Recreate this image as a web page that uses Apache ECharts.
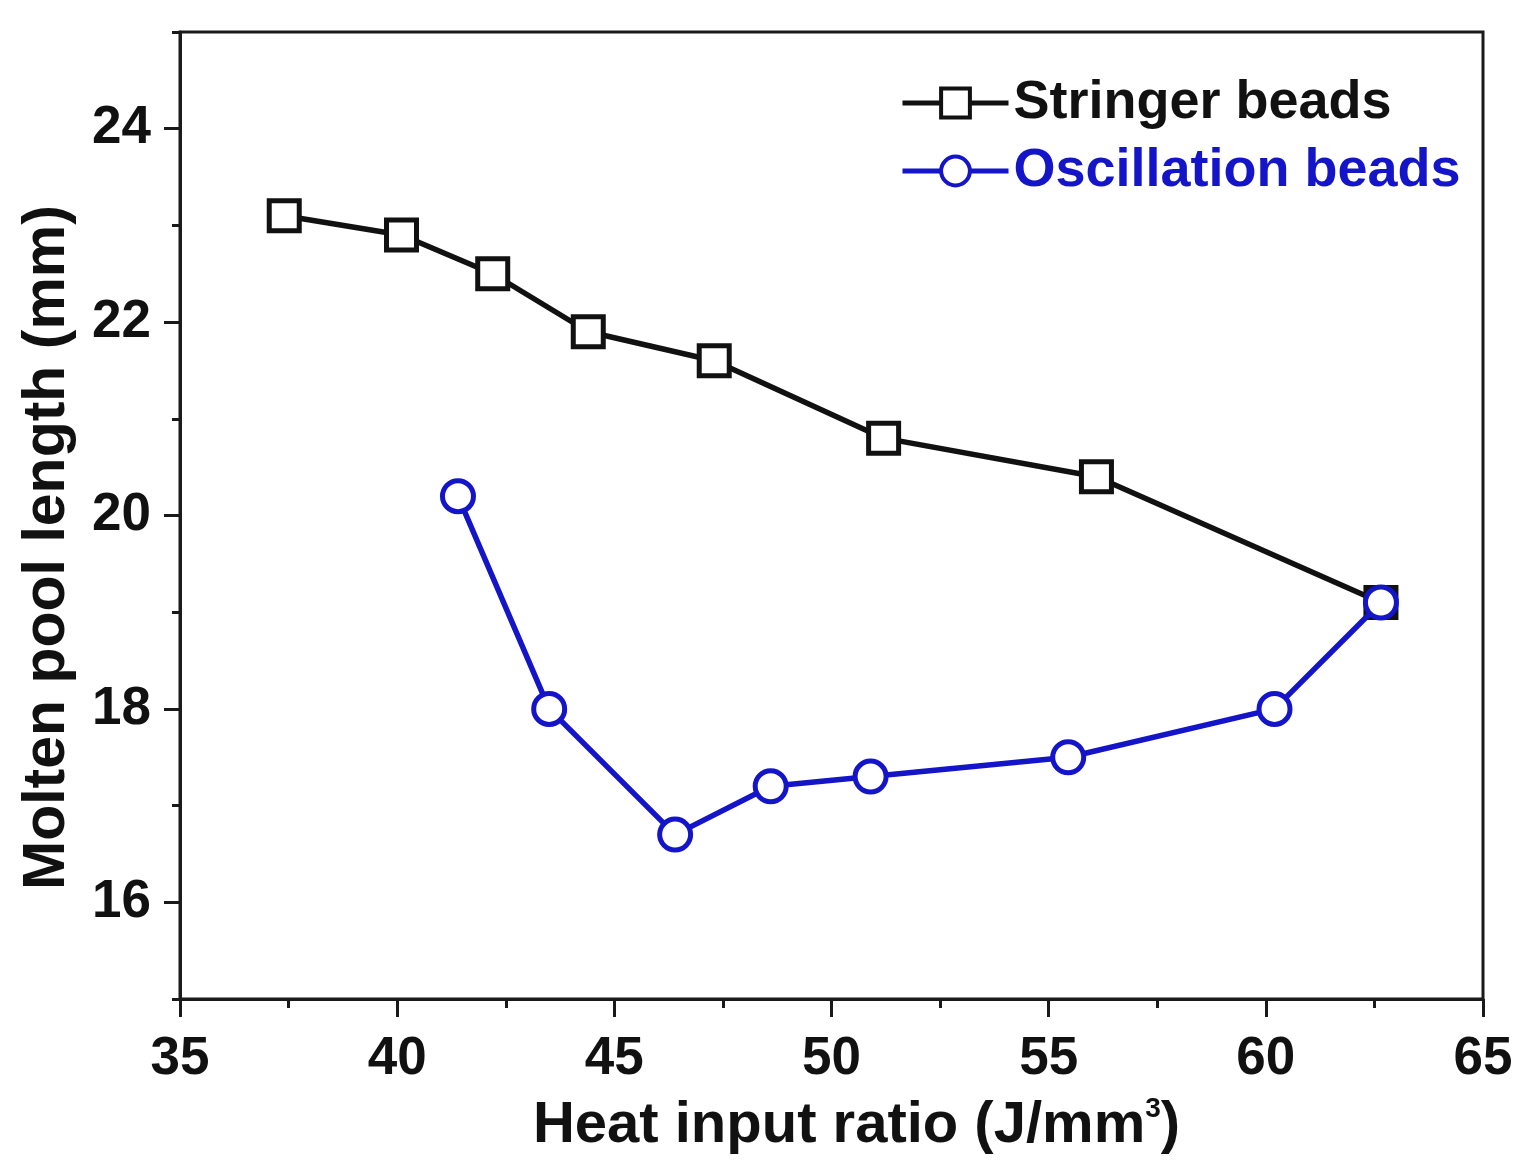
<!DOCTYPE html>
<html>
<head>
<meta charset="utf-8">
<script src="https://cdn.jsdelivr.net/npm/echarts@6/dist/echarts.min.js"></script>
<style>
html,body{margin:0;padding:0;background:#fff;}
#chart{width:1529px;height:1169px;}
</style>
</head>
<body>
<div id="chart"></div>
<script>
const stringerX = [37.4, 40.1, 42.2, 44.4, 47.3, 51.2, 56.1, 62.65];
const stringerY = [23.1, 22.9, 22.5, 21.9, 21.6, 20.8, 20.4, 19.1];
const oscX = [41.4, 43.5, 46.4, 48.6, 50.9, 55.45, 60.2, 62.65];
const oscY = [20.2, 18.0, 16.7, 17.2, 17.3, 17.5, 18.0, 19.1];
const yMajorTicks = [16, 18, 20, 22, 24];
const yMinorTicks = [15, 17, 19, 21, 23, 25];
const seriesNames = ['Stringer beads', 'Oscillation beads'];

const BLUE = '#1414c8';
const FONT = 'Liberation Sans, Arial, sans-serif';

const chart = echarts.init(document.getElementById('chart'));
const pair = (xs, ys) => xs.map((x, i) => [x, ys[i]]);

const axisLineStyle = { color: '#1a1a1a', width: 3 };

chart.setOption({
  backgroundColor: '#fff',
  animation: false,
  grid: {
    left: 180, right: 46, top: 32, bottom: 170,
    containLabel: false,
    outerBoundsMode: 'none',
    show: true, borderColor: '#1a1a1a', borderWidth: 3
  },
  legend: {
    orient: 'vertical',
    left: 895, top: 71,
    itemWidth: 106, itemHeight: 36,
    itemGap: 14,
    lineStyle: { width: 5 },
    textStyle: { fontFamily: FONT, fontWeight: 'bold', fontSize: 54, lineHeight: 54, color: '#111' },
    data: [
      { name: seriesNames[0], textStyle: { color: '#111' }, itemStyle: { borderWidth: 4 } },
      { name: seriesNames[1], textStyle: { color: BLUE }, itemStyle: { borderWidth: 4 } }
    ]
  },
  xAxis: {
    type: 'value',
    min: 35, max: 65, interval: 5,
    name: 'Heat input ratio (J/mm{sup|3})',
    nameLocation: 'middle', nameGap: 96,
    nameTextStyle: {
      fontFamily: FONT, fontWeight: 'bold', fontSize: 58, color: '#111',
      padding: [0, 0, 0, 50],
      rich: { sup: { fontFamily: FONT, fontWeight: 'bold', fontSize: 28, color: '#111', verticalAlign: 'top', padding: [0, 0, 34, 0] } }
    },
    axisLine: { show: true, lineStyle: axisLineStyle },
    axisTick: { show: true, inside: false, length: 18, lineStyle: { color: '#1a1a1a', width: 3 } },
    minorTick: { show: true, splitNumber: 2, length: 9, lineStyle: { color: '#1a1a1a', width: 3 } },
    axisLabel: { fontFamily: FONT, fontWeight: 'bold', fontSize: 53, color: '#111', margin: 34 },
    splitLine: { show: false }
  },
  yAxis: [
    {
      type: 'value',
      min: 15, max: 25,
      name: 'Molten pool length (mm)',
      nameLocation: 'middle', nameGap: 103, nameRotate: 90,
      nameTextStyle: { fontFamily: FONT, fontWeight: 'bold', fontSize: 59, color: '#111', padding: [0, 64, 0, 0] },
      axisLine: { show: true, lineStyle: axisLineStyle },
      axisTick: { show: true, inside: false, length: 16, customValues: yMajorTicks, lineStyle: { color: '#1a1a1a', width: 3 } },
      axisLabel: { fontFamily: FONT, fontWeight: 'bold', fontSize: 53, color: '#111', margin: 29, customValues: yMajorTicks },
      splitLine: { show: false }
    },
    {
      type: 'value',
      min: 15, max: 25,
      position: 'left',
      axisLine: { show: false },
      axisTick: { show: true, inside: false, length: 8, customValues: yMinorTicks, lineStyle: { color: '#1a1a1a', width: 3 } },
      axisLabel: { show: false },
      splitLine: { show: false }
    }
  ],
  series: [
    {
      name: seriesNames[0],
      type: 'line',
      data: pair(stringerX, stringerY),
      symbol: 'rect', symbolSize: 30,
      lineStyle: { color: '#111', width: 5.5 },
      itemStyle: { color: '#fff', borderColor: '#111', borderWidth: 5 },
      z: 3
    },
    {
      name: seriesNames[1],
      type: 'line',
      data: pair(oscX, oscY),
      symbol: 'circle', symbolSize: 31,
      lineStyle: { color: BLUE, width: 5.5 },
      itemStyle: { color: '#fff', borderColor: BLUE, borderWidth: 5 },
      z: 4
    }
  ]
});
</script>
</body>
</html>
